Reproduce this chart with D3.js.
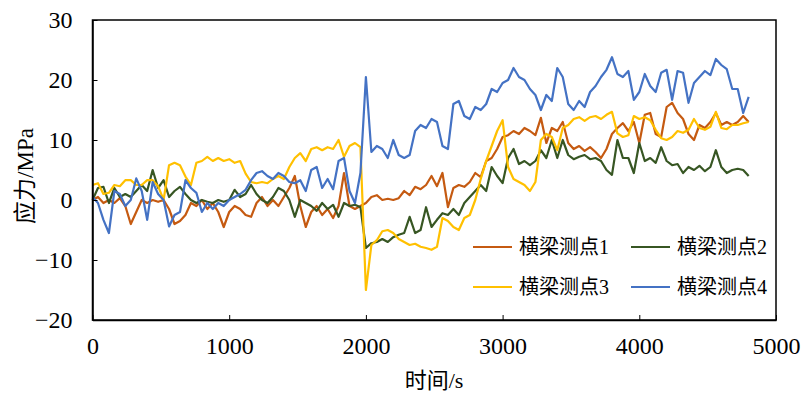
<!DOCTYPE html>
<html><head><meta charset="utf-8">
<script src="https://cdn.jsdelivr.net/npm/d3@7"></script>
<style>body{margin:0;background:#fff}svg{display:block}</style>
</head><body><svg id="c" width="803" height="394"></svg>
<script>
const times = d3.range(0, 4801, 40);
const seriesNames = ["横梁测点1", "横梁测点2", "横梁测点3", "横梁测点4"];
const seriesColors = ["#C55A11", "#375623", "#FFC000", "#4472C4"];
const s1 = [0,0.5,-0.5,0,-0.5,0.3,-1,-4,-2,0,-0.5,0,-0.3,0,-1.5,-4,-3.5,-2.5,-0.5,-1,0,-1.5,-0.5,-2,-4.5,-2,-1,-1.5,-2.5,-2.8,-0.5,0.5,-1,0,-1,0.5,2,4,-1,-4.5,-2,-1,-2.5,-1.5,-3,-1,4.5,-1,-1.5,-1,-0.5,0.5,0.8,0,0.2,0,0.3,1.5,0.8,2.2,1.8,2.5,4,2.3,4.5,-1.2,2,2.5,2.2,3,4.5,3.8,6.5,7,8.5,10.5,10.8,11.5,11,12,11.5,10.8,13.7,9.5,12,11.5,13,9.5,8.5,9,8.2,8.8,8,7,8.5,11,12,12.8,11.5,13,9.5,14.2,14.5,11,10.5,15.5,16.2,14.5,13.5,11,10,12.5,12,13,14.5,12.5,13,12.5,13,14,13];
const s2 = [0,2,2.2,-0.5,2,0.5,1,0.5,1.5,2.5,1.5,5,2,3.3,0.5,1.5,2.2,1,0,-0.5,0,-0.3,-0.5,0,-0.3,0,1.7,0.5,1,2.5,1,0,-0.5,0.5,2,1.5,0,-2.8,0,-0.5,-1,-1.8,-0.5,-1.5,-0.8,-2.8,-0.5,-1,-0.8,-1.2,-8,-7.2,-7,-6.5,-7,-6.2,-5.8,-5.5,-2.8,-5.5,-5,-1.2,-4.5,-3.3,-2.2,-2.5,-1.5,-2.5,-0.5,0.5,1.5,2.5,1.5,5.5,4,2.8,7,8.5,6,6.5,5.8,6.5,8.3,7,10,7,10,7.5,6.8,7.2,7.5,6.8,7,6.5,5,4.2,10,7,7,4.5,9.5,6.5,7,6.2,8.8,6.5,5.8,6,4.5,5.5,5,5.7,4.8,5.5,8.3,5.5,4.5,5,5.2,5,4];
const s3 = [2.5,2.8,1,1.2,2.5,2.3,3.3,3.3,2.5,2.5,3.3,3.3,2.3,0,5.8,6.2,5.8,3.9,2.5,6.2,6.5,7.2,6.5,7,6.5,6.8,6.2,6.5,4.4,3,2.8,3,2.8,3.5,4,3.5,5.5,7,7.8,6.5,8.5,8.8,8.3,8.8,8.5,10,7.2,9,9.5,8.8,-15,-7.5,-6.7,-5.2,-5,-5.5,-6.5,-7,-7.5,-7.3,-7.8,-8,-8.3,-7.8,-3,-3.5,-4.5,-5,-3,-2.5,0,3.5,6.5,9,11.5,13.3,5.5,3.5,3,2.5,1.5,3,10,11,10.5,8.3,12,12.5,13.5,13.8,13.2,13.8,14,13.5,14.2,14.7,11.1,10.5,10.8,14,13.5,13.8,13.3,11.7,10.3,10,10.5,11.5,11.2,11.7,13.5,12,11.7,12.2,14.7,12,11.8,12.5,12.5,12.8,13];
const s4 = [0.5,-0.5,-3.3,-5.5,1.5,1,-1,0,3.6,1.5,-3.3,3,1,0,-4.4,-2.5,-2,3.3,2,1.2,-2,-0.5,-1.5,-0.5,-1,0,0.5,1,1.7,3.3,4.5,4.8,4,3.5,4.5,4,3,2.8,3.3,1.5,5,5.5,2,3.5,1.8,6.5,7,1.5,-0.5,4.5,20.5,8,9,8.5,7,10,7.5,7,7.5,11.5,12.5,12,13.5,13,9,8.5,16,16.5,14,13.5,15.5,15,16,18.5,18,19.5,20,22,20.5,20,18.5,17.5,15,17.5,16.5,22,20.5,16,15,16.5,15.5,18,19,20.5,21.7,23.8,21,20.5,21.5,16.7,18,21,19,18,21.2,21.7,16.7,21.5,21.2,16.2,19.5,20.5,21.5,20.8,23.5,22.5,21.8,18.5,18.5,14.5,17.2];
const series = [s1, s2, s3, s4];
const xTicks = [0, 1000, 2000, 3000, 4000, 5000];
const yTicks = [-20, -10, 0, 10, 20, 30];
const xLabel = "时间/s";
const yLabel = "应力/MPa";

const svg = d3.select("#c");
const L = 92.5, R = 776, T = 20, B = 320;
const x = d3.scaleLinear().domain([0, 5000]).range([L, R]);
const y = d3.scaleLinear().domain([-20, 30]).range([B, T]);
const serif = "Liberation Serif";
const cjk = "Liberation Serif, Noto Sans CJK SC";

const line = d3.line().x((d, i) => x(times[i])).y(d => y(d));
series.forEach((s, k) => {
  svg.append("path").attr("d", line(s)).attr("fill", "none")
    .attr("stroke", seriesColors[k]).attr("stroke-width", 2.2).attr("stroke-linejoin", "round");
});

svg.append("rect").attr("x", L).attr("y", T).attr("width", R - L).attr("height", B - T)
  .attr("fill", "none").attr("stroke", "#000").attr("stroke-width", 1.5);

const gx = svg.append("g").attr("transform", `translate(0,${B})`)
  .call(d3.axisBottom(x).tickValues(xTicks).tickFormat(d3.format("d")).tickSizeInner(-5).tickSizeOuter(0).tickPadding(17));
const gy = svg.append("g").attr("transform", `translate(${L},0)`)
  .call(d3.axisLeft(y).tickValues(yTicks).tickFormat(d3.format("d")).tickSizeInner(-5).tickSizeOuter(0).tickPadding(20));
[gx, gy].forEach(g => {
  g.attr("font-family", serif).attr("font-size", 24);
  g.select(".domain").attr("stroke", "#000").attr("stroke-width", 1.5);
  g.selectAll(".tick line").attr("stroke", "#000").attr("stroke-width", 1);
  g.selectAll(".tick text").attr("font-family", serif).attr("font-size", 24).attr("fill", "#000");
});
gx.selectAll(".tick text").attr("dy", "0.71em");

svg.append("text").attr("font-family", cjk).attr("x", 434).attr("y", 388).attr("text-anchor", "middle")
  .attr("font-size", 22).text(xLabel);
svg.append("text").attr("font-family", cjk).attr("transform", "translate(33,176) rotate(-90)").attr("text-anchor", "middle")
  .attr("font-size", 23).text(yLabel);

const legPos = [[473, 247], [631, 247], [473, 287], [631, 287]];
seriesNames.forEach((n, k) => {
  const [lx, ly] = legPos[k];
  svg.append("line").attr("x1", lx).attr("x2", lx + 39).attr("y1", ly).attr("y2", ly)
    .attr("stroke", seriesColors[k]).attr("stroke-width", 2);
  svg.append("text").attr("font-family", cjk).attr("x", lx + 46).attr("y", ly + 7)
    .attr("font-size", 20).text(n);
});
</script></body></html>
